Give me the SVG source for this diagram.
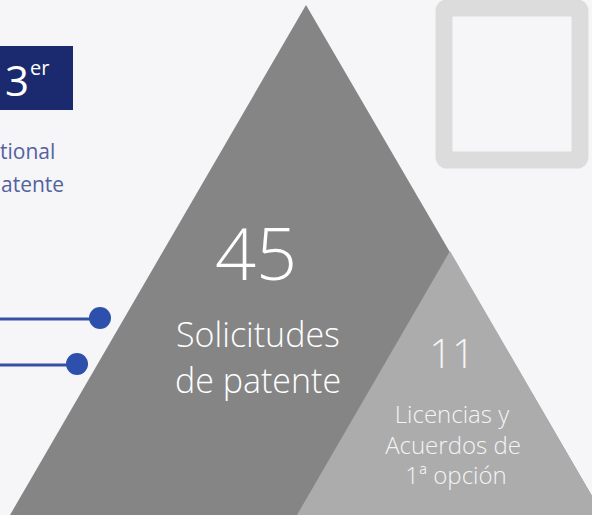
<svg xmlns="http://www.w3.org/2000/svg" width="592" height="515" viewBox="0 0 592 515">
<style>
.t{font-family:"Open Sans","Liberation Sans",sans-serif;}
.w{fill:#ffffff;text-anchor:middle;font-weight:300;}
.wl{fill:#f4f4f4;text-anchor:middle;font-weight:300;}
.side{fill:#52619f;font-size:21px;}
.conn{stroke:#3550a4;stroke-width:3;fill:none;}
.dot{fill:#2d50ad;}
</style>
<rect width="592" height="515" fill="#f6f6f8"/>
<g id="frame">
<rect x="444" y="8" width="136" height="152" rx="3" fill="none" stroke="#dcdcdc" stroke-width="17"/>
</g>
<g id="rank">
<rect x="0" y="46" width="73" height="64" fill="#1b2a6e"/>
<text class="t" x="5" y="96" font-size="42" fill="#ffffff">3</text>
<text class="t" x="30" y="75" font-size="20" fill="#ffffff">er</text>
<text class="t side" x="0" y="159">tional</text>
<text class="t side" x="1" y="192">atente</text>
</g>
<g id="pyramid">
<polygon points="306,5 10,515 603,515" fill="#858585"/>
<text class="t w" x="256" y="280" font-size="72">45</text>
<text class="t w" x="258" y="347" font-size="34">Solicitudes</text>
<text class="t w" x="258" y="393" font-size="34">de patente</text>
</g>
<g id="licencias">
<polygon points="450,251 297,515 603,515" fill="#acacac"/>
<text class="t wl" x="452" y="368" font-size="40">11</text>
<text class="t wl" x="452" y="423" font-size="24">Licencias y</text>
<text class="t wl" x="453" y="454" font-size="24">Acuerdos de</text>
<text class="t wl" x="456" y="484" font-size="24">1ª opción</text>
</g>
<g id="connectors">
<line class="conn" x1="0" y1="319" x2="100" y2="319"/>
<circle class="dot" cx="100" cy="318" r="11"/>
<line class="conn" x1="0" y1="365" x2="77" y2="365"/>
<circle class="dot" cx="77" cy="364" r="11"/>
</g>
</svg>
